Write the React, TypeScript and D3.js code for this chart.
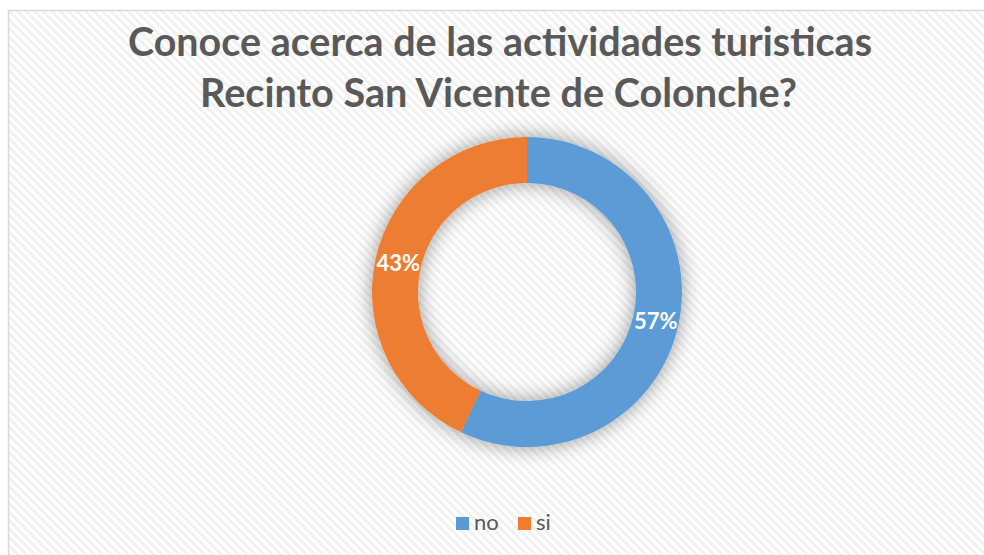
import * as d3 from 'd3'
import { useEffect, useRef } from 'react'

const categories = ['no', 'si']
const values = [57, 43]
const colors = ['#5b9bd5', '#ed7d31']
const titleLines = [
  'Conoce acerca de las actividades turisticas',
  'Recinto San Vicente de Colonche?',
]

const width = 984, height = 555
const cx = 527, cy = 292
const outerR = 155, innerR = 109
const font = 'Lato, "Open Sans", sans-serif'

const chart = (svgNode: SVGSVGElement) => {
  const svg = d3.select(svgNode)
  svg.selectAll('*').remove()

  const defs = svg.append('defs')
  const pat = defs.append('pattern')
    .attr('id', 'hatch')
    .attr('width', 6).attr('height', 6)
    .attr('patternUnits', 'userSpaceOnUse')
    .attr('patternTransform', 'rotate(45)')
  pat.append('rect').attr('width', 6).attr('height', 6).attr('fill', '#ffffff')
  pat.append('rect').attr('width', 6).attr('height', 3).attr('fill', '#f1f1f1')

  const shadow = defs.append('filter')
    .attr('id', 'shadow')
    .attr('x', '-30%').attr('y', '-30%')
    .attr('width', '160%').attr('height', '160%')
  shadow.append('feGaussianBlur').attr('in', 'SourceAlpha').attr('stdDeviation', 10)
  shadow.append('feComponentTransfer')
    .append('feFuncA').attr('type', 'linear').attr('slope', 0.4)
  const merge = shadow.append('feMerge')
  merge.append('feMergeNode')
  merge.append('feMergeNode').attr('in', 'SourceGraphic')

  // chart area
  svg.append('rect')
    .attr('x', 8.5).attr('y', 10.5)
    .attr('width', width + 10).attr('height', height + 10)
    .attr('fill', 'url(#hatch)')
    .attr('stroke', '#d9d9d9')
    .attr('stroke-width', 1.5)

  // title
  const title = svg.append('text')
    .attr('font-family', font)
    .attr('font-weight', 700)
    .attr('font-size', 40)
    .attr('fill', '#595959')
    .attr('text-anchor', 'middle')
  const titleX = [500, 498.5]
  const titleW = [744, 597]
  const titleY = [56, 107]
  titleLines.forEach((t, i) => {
    title.append('tspan')
      .attr('x', titleX[i]).attr('y', titleY[i])
      .attr('textLength', titleW[i])
      .attr('lengthAdjust', 'spacingAndGlyphs')
      .text(t)
  })

  // donut
  const pie = d3.pie<number>().sort(null).value(d => d)
  const arcs = pie(values)
  const arc = d3.arc<d3.PieArcDatum<number>>().innerRadius(innerR).outerRadius(outerR)
  const labelArc = d3.arc<d3.PieArcDatum<number>>().innerRadius(132).outerRadius(132)
  const total = d3.sum(values)

  const g = svg.append('g').attr('transform', `translate(${cx},${cy})`)
  g.append('g')
    .attr('filter', 'url(#shadow)')
    .selectAll('path')
    .data(arcs)
    .join('path')
    .attr('d', arc)
    .attr('fill', (d, i) => colors[i])

  g.selectAll('text.lbl')
    .data(arcs)
    .join('text')
    .attr('class', 'lbl')
    .attr('transform', d => `translate(${labelArc.centroid(d)})`)
    .attr('dy', '0.36em')
    .attr('text-anchor', 'middle')
    .attr('font-family', font)
    .attr('font-weight', 700)
    .attr('font-size', 22)
    .attr('fill', '#ffffff')
    .text(d => `${Math.round(d.data / total * 100)}%`)

  // legend
  const legendX = [456, 518]
  const legend = svg.append('g')
    .selectAll('g')
    .data(categories)
    .join('g')
    .attr('transform', (d, i) => `translate(${legendX[i]},517)`)
  legend.append('rect')
    .attr('width', 13).attr('height', 13)
    .attr('fill', (d, i) => colors[i])
  legend.append('text')
    .attr('x', 18).attr('y', 12.5)
    .attr('font-family', font)
    .attr('font-size', 22)
    .attr('fill', '#595959')
    .text(d => d)
}

export default function App() {
  const svg = useRef<SVGSVGElement>(null)
  useEffect(() => {
    if (svg.current) chart(svg.current)
  }, [])
  return (
    <svg
      ref={svg}
      width={width}
      height={height}
      style={{ position: 'absolute', left: 0, top: 0 }}
    />
  )
}
